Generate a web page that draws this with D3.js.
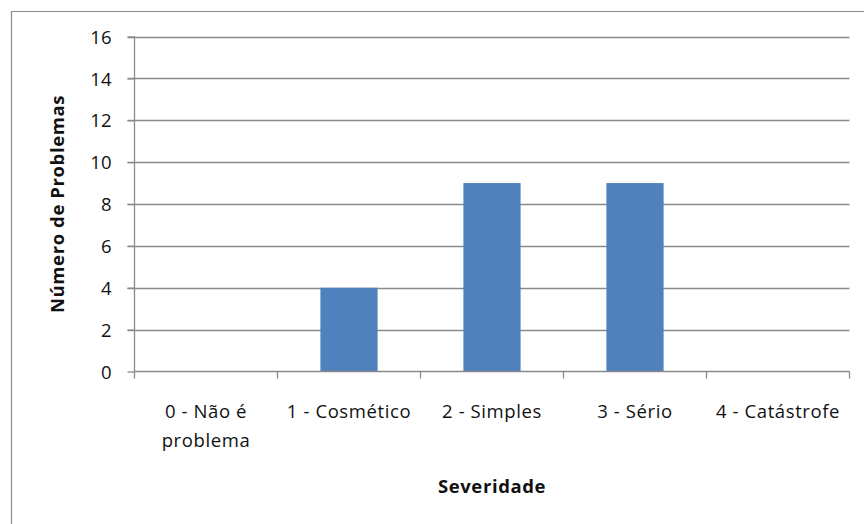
<!DOCTYPE html>
<html>
<head>
<meta charset="utf-8">
<script src="https://cdn.jsdelivr.net/npm/d3@7"></script>
<style>
  html, body { margin: 0; padding: 0; background: #fff; }
  svg { display: block; }
  text { font-family: "Open Sans", "Noto Sans", sans-serif; fill: #111; }
</style>
</head>
<body>
<svg id="chart" width="864" height="524"></svg>
<script>
// Problemas encontrados por nível de severidade
const categories = [["0 - Não é", "problema"], ["1 - Cosmético"], ["2 - Simples"], ["3 - Sério"], ["4 - Catástrofe"]];
const values = [0, 4, 9, 9, 0];
const yTicks = [0, 2, 4, 6, 8, 10, 12, 14, 16];
const yTitle = "Número de Problemas";
const xTitle = "Severidade";

const svg = d3.select("#chart");
const plotLeft = 134.5, plotRight = 849.5, plotTop = 36.5, plotBottom = 371.5;
const keys = categories.map(d => d.join(" "));
const fontSize = 18.5, spacing = 0.6;

// Moldura do gráfico
svg.append("path")
  .attr("d", `M11.5,530 V11.5 H870`)
  .attr("fill", "none").attr("stroke", "#8c8c8c").attr("stroke-width", 1.2);

const x = d3.scaleBand().domain(keys).range([plotLeft, plotRight]).paddingInner(0.6).paddingOuter(0.3);
const xb = d3.scaleBand().domain(keys).range([plotLeft, plotRight]);
const y = d3.scaleLinear().domain([0, 16]).range([plotBottom, plotTop]);

// Linhas de grade
svg.append("g").selectAll("line").data(yTicks.filter(t => t > 0)).join("line")
  .attr("x1", plotLeft - 7).attr("x2", plotRight)
  .attr("y1", d => Math.round(y(d)) + 0.5).attr("y2", d => Math.round(y(d)) + 0.5)
  .attr("stroke", "#8a8a8a").attr("stroke-width", 1.3);

// Barras
svg.append("g").selectAll("rect").data(values).join("rect")
  .attr("x", (d, i) => x(keys[i]))
  .attr("width", x.bandwidth())
  .attr("y", d => y(d))
  .attr("height", d => y(0) - y(d))
  .attr("fill", "#4f81bd");

// Eixo Y
const yAxis = svg.append("g").attr("transform", `translate(${plotLeft},0)`)
  .call(d3.axisLeft(y).tickValues(yTicks).tickSize(7).tickPadding(16));
yAxis.select(".domain").attr("stroke", "#8a8a8a").attr("stroke-width", 1.3).attr("d", `M0,${plotTop}V${plotBottom}`);
yAxis.selectAll(".tick line").attr("stroke", "#8a8a8a").attr("stroke-width", 1.3);
yAxis.selectAll(".tick text").attr("font-size", fontSize).attr("font-family", "Open Sans, sans-serif")
  .attr("fill", "#111").attr("dy", "0.36em");

// Eixo X
const xAxis = svg.append("g").attr("transform", `translate(0,${plotBottom})`);
xAxis.append("line").attr("x1", plotLeft).attr("x2", plotRight).attr("y1", 0).attr("y2", 0)
  .attr("stroke", "#8a8a8a").attr("stroke-width", 1.3);
const bounds = keys.map(k => xb(k)).concat([plotRight]);
xAxis.selectAll("line.tick").data(bounds).join("line").attr("class", "tick")
  .attr("x1", d => d).attr("x2", d => d).attr("y1", 0).attr("y2", 7)
  .attr("stroke", "#8a8a8a").attr("stroke-width", 1.3);
categories.forEach((lines, i) => {
  const cx = xb(keys[i]) + xb.bandwidth() / 2;
  const t = xAxis.append("text")
    .attr("x", cx)
    .attr("y", 46.5)
    .attr("text-anchor", "middle")
    .attr("font-size", fontSize)
    .attr("letter-spacing", spacing);
  lines.forEach((s, j) => t.append("tspan")
    .attr("x", cx)
    .attr("dy", j === 0 ? 0 : 29).text(s));
});

// Títulos dos eixos
svg.append("text").attr("x", (plotLeft + plotRight) / 2).attr("y", 493)
  .attr("text-anchor", "middle").attr("font-weight", "bold").attr("font-size", fontSize)
  .attr("letter-spacing", spacing)
  .text(xTitle);
svg.append("text").attr("transform", `translate(63.5,${(plotTop + plotBottom) / 2}) rotate(-90)`)
  .attr("text-anchor", "middle").attr("font-weight", "bold").attr("font-size", fontSize)
  .attr("letter-spacing", spacing)
  .text(yTitle);
</script>
</body>
</html>
